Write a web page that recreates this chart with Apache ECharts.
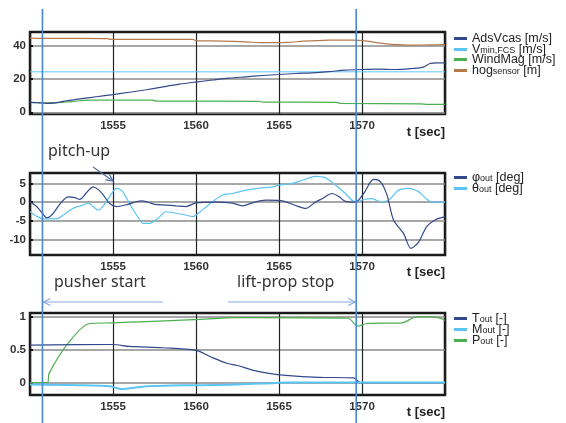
<!DOCTYPE html>
<html>
<head>
<meta charset="utf-8">
<script src="https://cdn.jsdelivr.net/npm/echarts@6/dist/echarts.min.js"></script>
<style>
  html, body { margin: 0; padding: 0; background: #fff; }
  #main { width: 566px; height: 423px; }
</style>
</head>
<body>
<div id="main"></div>
<script>
// time axis
const tMin = 1550, tMax = 1575, tStep = 5;
const eventTimes = [1550.75, 1569.65]; // pusher start, lift-prop stop

// panel 1: speeds / height
const adsVcas = [[1550,6.0],[1550.5,5.8],[1551,5.3],[1551.5,5.6],[1552,6.5],[1553,8.0],[1554,9.3],[1555,10.6],[1556,12.0],[1557,13.5],[1558,15.2],[1559,16.8],[1560,18.1],[1561,19.3],[1562,20.4],[1563,21.2],[1564,22.0],[1565,22.6],[1566,23.2],[1567,23.6],[1568,24.3],[1569,25.2],[1570,25.6],[1571,25.8],[1572,25.6],[1573,26.2],[1573.7,27.0],[1574.1,29.2],[1574.5,29.5],[1575,29.5]];
const vminFcs = [[1550,24.2],[1560,24.2],[1570,24.2],[1575,24.2]];
const windMag = [[1550,6.0],[1551.3,5.6],[1552.5,6.4],[1553.5,7.3],[1557.4,7.3],[1557.6,6.7],[1563.8,6.6],[1564,6.1],[1568.5,6.0],[1568.7,5.3],[1573.5,5.1],[1574,4.8],[1575,4.8]];
const hogSensor = [[1550,44.3],[1551,44.2],[1554.7,44.1],[1554.8,43.6],[1559.8,43.6],[1560,42.9],[1561.5,42.6],[1563,42.1],[1564,41.6],[1565.5,41.8],[1566.5,42.5],[1568,43.1],[1569.5,43.2],[1570.3,42.6],[1571,41.5],[1571.8,40.6],[1573,40.1],[1574,40.3],[1575,40.5]];

// panel 2: attitude
const phiOut = [[1550,0.1],[1550.4,-1.2],[1550.75,-3.0],[1551,-4.2],[1551.3,-3.5],[1551.9,0],[1552.3,1.4],[1552.7,1.2],[1553,0.7],[1553.4,2.5],[1553.8,4.1],[1554.1,3.4],[1554.4,2.0],[1554.8,-0.4],[1555.2,-1.2],[1555.9,-0.6],[1556.7,0.3],[1557.1,0],[1557.5,-0.6],[1558.2,-0.8],[1558.8,-1.0],[1559.4,-1.2],[1560,-0.2],[1561.2,0],[1562.2,-0.3],[1562.8,-1.0],[1563.4,-0.2],[1564.2,0.5],[1565.1,0.4],[1565.6,-0.2],[1566.1,-1.1],[1566.6,-1.7],[1567.2,0],[1567.6,0.9],[1568.2,2.3],[1568.6,1.5],[1569,0.2],[1569.6,0],[1570.1,2.3],[1570.7,6.1],[1571.1,5.5],[1571.5,2.0],[1571.9,-4.8],[1572.5,-8.4],[1572.95,-12.4],[1573.4,-10.8],[1573.9,-6.6],[1574.4,-4.8],[1575,-3.9]];
const thetaOut = [[1550,-2.6],[1550.4,-3.8],[1550.8,-4.5],[1551.6,-4.5],[1552,-3.5],[1552.4,-2.2],[1552.8,-1.3],[1553.2,-0.8],[1553.5,-0.3],[1553.8,-1.2],[1554.1,-2.2],[1554.5,-0.5],[1554.9,2.2],[1555.2,3.7],[1555.5,3.2],[1555.8,1.2],[1556.1,-1.2],[1556.5,-4.0],[1556.8,-5.7],[1557.2,-5.7],[1557.7,-4.4],[1558.2,-2.6],[1558.8,-3.0],[1559.3,-3.4],[1559.8,-3.9],[1560.2,-2.8],[1560.6,-1.3],[1561,0.1],[1561.6,1.9],[1562.2,2.3],[1563,3.2],[1563.8,3.7],[1564.6,4.1],[1565.1,4.6],[1565.8,5.0],[1566.5,6.0],[1567.2,6.9],[1567.8,6.5],[1568.4,4.6],[1569,2.3],[1569.6,0],[1570.1,0.7],[1570.6,0.9],[1571.2,0],[1571.7,0.9],[1572.2,3.2],[1572.8,3.7],[1573.4,2.8],[1573.8,1.2],[1574.2,0],[1575,0]];

// panel 3: controls
const tOut = [[1550,0.57],[1555,0.58],[1556,0.55],[1558,0.53],[1560,0.49],[1560.9,0.39],[1561.9,0.29],[1562.5,0.26],[1563.4,0.19],[1564.4,0.14],[1565.4,0.11],[1567.4,0.08],[1569.5,0.07],[1569.9,0],[1575,0]];
const mOut = [[1550,-0.03],[1553,-0.04],[1554.9,-0.06],[1555.5,-0.1],[1556.9,-0.06],[1559.9,-0.04],[1562.5,-0.03],[1564.5,-0.01],[1565.4,0],[1575,0]];
const pOut = [[1550,0],[1551.05,0],[1551.15,0.14],[1552.3,0.6],[1553.6,0.9],[1555,0.91],[1557,0.93],[1559.9,0.96],[1562.5,0.99],[1569.15,0.98],[1569.75,0.86],[1570.3,0.9],[1572.4,0.91],[1573.3,1.0],[1574.3,1.0],[1575,0.95]];

const yTicks = [[0, 20, 40], [-10, -5, 0, 5], [0, 0.5, 1]];
const yRanges = [[-1, 48], [-14.2, 7.8], [-0.19, 1.06]];

const NAVY = '#33498c', LIGHT = '#5cc4f2', GREEN = '#4caf50', BROWN = '#b57a4c';
const FONT = 'Liberation Sans, Arial, sans-serif';

const chart = echarts.init(document.getElementById('main'));

const gridTops = [32, 173, 313];
const grids = gridTops.map(top => ({
  left: 30, width: 415, top: top, height: 82,
  show: true, borderColor: '#1a1a1a', borderWidth: 2.5, backgroundColor: '#fff'
}));

const xAxes = gridTops.map((_, i) => ({
  type: 'value', gridIndex: i, min: tMin, max: tMax, interval: tStep,
  axisLine: { show: false },
  axisTick: { show: false },
  axisLabel: { showMinLabel: false, showMaxLabel: false, formatter: v => String(v), color: '#333', fontWeight: 'bold', fontSize: 11.5, fontFamily: FONT, margin: 6 },
  splitLine: { show: true, lineStyle: { color: '#222', width: 1.2 } }
}));

const yAxes = gridTops.map((_, i) => ({
  type: 'value', gridIndex: i, min: yRanges[i][0], max: yRanges[i][1],
  axisLine: { show: false },
  axisTick: { show: true, inside: true, length: 3, lineStyle: { color: '#111', width: 2 }, customValues: yTicks[i] },
  axisLabel: { color: '#333', fontWeight: 'bold', fontSize: 11.5, fontFamily: FONT, margin: 4, customValues: yTicks[i] },
  splitLine: { show: true, lineStyle: { color: '#8a8a8a', width: 1.5 } }
}));

function line(name, data, color, axis, width) {
  return {
    name: name, type: 'line', data: data, xAxisIndex: axis, yAxisIndex: axis,
    showSymbol: false, smooth: 0.3, color: color,
    lineStyle: { color: color, width: width || 1.2 }, z: 3
  };
}

function legendFmt(name) {
  const m = name.match(/^(\S+?)_(\S+) (.*)$/);
  return m ? `{n|${m[1]}}{s|${m[2]}}{n| ${m[3]}}` : `{n|${name}}`;
}

const legendBase = {
  orient: 'vertical', left: 449, icon: 'rect', itemWidth: 13, itemHeight: 3, itemGap: -3,
  formatter: legendFmt,
  textStyle: {
    rich: {
      n: { fontSize: 12.5, lineHeight: 11, color: '#222', fontFamily: FONT },
      s: { fontSize: 9, lineHeight: 7, color: '#222', fontFamily: FONT, verticalAlign: 'bottom', padding: [4, 0, 0, 0] }
    }
  }
};

chart.setOption({
  animation: false,
  backgroundColor: '#fff',
  grid: grids,
  xAxis: xAxes,
  yAxis: yAxes,
  legend: [
    Object.assign({}, legendBase, { top: 27, data: ['AdsVcas [m/s]', 'V_min,FCS [m/s]', 'WindMag [m/s]', 'hog_sensor [m]'] }),
    Object.assign({}, legendBase, { top: 165, data: ['φ_out [deg]', 'θ_out [deg]'] }),
    Object.assign({}, legendBase, { top: 306, data: ['T_out [-]', 'M_out [-]', 'P_out [-]'] })
  ],
  series: [
    line('hog_sensor [m]', hogSensor, BROWN, 0),
    line('V_min,FCS [m/s]', vminFcs, LIGHT, 0, 1),
    line('WindMag [m/s]', windMag, GREEN, 0),
    line('AdsVcas [m/s]', adsVcas, NAVY, 0),
    line('θ_out [deg]', thetaOut, LIGHT, 1),
    line('φ_out [deg]', phiOut, NAVY, 1),
    line('P_out [-]', pOut, GREEN, 2),
    line('T_out [-]', tOut, NAVY, 2),
    line('M_out [-]', mOut, LIGHT, 2, 2)
  ]
});

// annotations anchored on the time axis
const px = t => chart.convertToPixel({ xAxisIndex: 0 }, t);
const ev0 = px(eventTimes[0]), ev1 = px(eventTimes[1]);
const ARROW = '#86a8dc';

function arrow(x1, y1, x2, y2, color) {
  const a = Math.atan2(y2 - y1, x2 - x1), L = 7, W = 3.5;
  const bx = x2 - L * Math.cos(a), by = y2 - L * Math.sin(a);
  return [
    { type: 'line', shape: { x1: x1, y1: y1, x2: x2, y2: y2 }, style: { stroke: color, lineWidth: 1.2 }, z: 20 },
    { type: 'polyline', shape: { points: [[bx - W * Math.sin(a), by + W * Math.cos(a)], [x2, y2], [bx + W * Math.sin(a), by - W * Math.cos(a)]] }, style: { stroke: color, lineWidth: 1.2, fill: null }, z: 20 }
  ];
}

const tsec = y => ({ type: 'text', right: 121, top: y, style: { text: 't [sec]', font: 'bold 13px ' + FONT, fill: '#222' }, z: 20 });
const note = (x, y, s) => ({ type: 'text', left: x, top: y, style: { text: s, font: '16px "Noto Sans", sans-serif', fill: '#333' }, z: 20 });

chart.setOption({
  graphic: [
    { type: 'line', shape: { x1: ev0, y1: 9, x2: ev0, y2: 423 }, style: { stroke: '#4a86d4', lineWidth: 1.6 }, z: 30 },
    { type: 'line', shape: { x1: ev1, y1: 9, x2: ev1, y2: 423 }, style: { stroke: '#4a86d4', lineWidth: 1.6 }, z: 30 },
    tsec(126), tsec(266), tsec(406),
    note(48, 143, 'pitch-up'),
    note(54, 274, 'pusher start'),
    note(237, 274, 'lift-prop stop'),
    ...arrow(93, 167, px(1555), 181, '#4f72a8'),
    ...arrow(px(1558), 302, ev0 + 1, 302, ARROW),
    ...arrow(px(1561.9), 302, ev1 - 1, 302, ARROW)
  ]
});
</script>
</body>
</html>
